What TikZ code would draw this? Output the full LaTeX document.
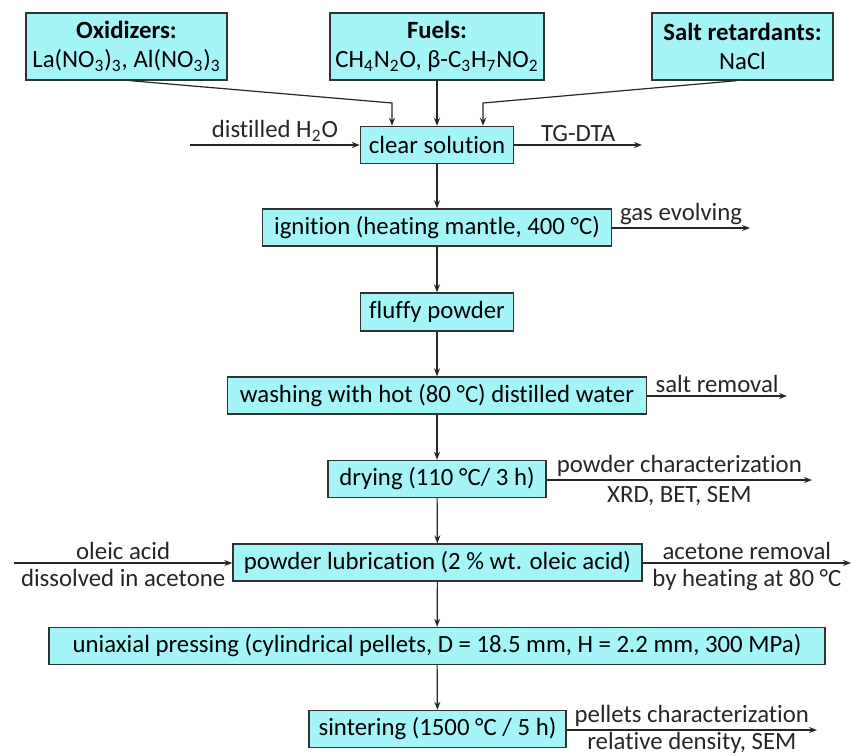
\documentclass[tikz,border=0pt]{standalone}
\usepackage{fontspec}
\setmainfont{Carlito}[Ligatures=NoCommon]
\usepackage{xcolor}
\usepackage{tikz}
\usetikzlibrary{arrows.meta, positioning}
\definecolor{boxcyan}{RGB}{163,245,248}

\begin{document}
\begin{tikzpicture}[x=0.5pt, y=-0.5pt,
    every node/.append style={font={\fontsize{12.4}{14.5}\selectfont}},
    box/.style={draw=black!80, fill=boxcyan, line width=0.7pt, minimum height=18.5pt, inner sep=2pt, align=center},
    arr/.style={-{Stealth[length=4pt, width=3pt]}, line width=0.6pt, black!85},
    lbl/.style={inner sep=1.5pt, align=center},
    lblb/.style={inner sep=3pt, align=center},
]
\useasboundingbox (0,0) rectangle (851,755);

\node[box, minimum width=100.5pt, minimum height=33.5pt] (ox) at (126.5,46.5) {\textbf{Oxidizers:}\\La(NO\textsubscript{3})\textsubscript{3}, Al(NO\textsubscript{3})\textsubscript{3}};
\node[box, minimum width=107pt, minimum height=33.5pt] (fuel) at (437,46.5) {\textbf{Fuels:}\\CH\textsubscript{4}N\textsubscript{2}O, β-C\textsubscript{3}H\textsubscript{7}NO\textsubscript{2}};
\node[box, minimum width=90.5pt, minimum height=33.5pt] (salt) at (742.5,46.5) {\textbf{Salt retardants:}\\NaCl};

\node[box, minimum width=76.5pt] (clear) at (437,145) {clear solution};
\node[box, minimum width=174.5pt] (ign) at (437,227.5) {ignition (heating mantle, 400 °C)};
\node[box, minimum width=76.5pt, minimum height=19pt] (fluffy) at (437,312) {fluffy powder};
\node[box, minimum width=209.5pt] (wash) at (437,395.5) {washing with hot (80 °C) distilled water};
\node[box, minimum width=109pt] (dry) at (437,479) {drying (110 °C/ 3 h)};
\node[box, minimum width=204.5pt] (lub) at (437.5,562.5) {powder lubrication (2 \% wt. oleic acid)};
\node[box, minimum width=388pt] (press) at (437,646) {uniaxial pressing (cylindrical pellets, D = 18.5 mm, H = 2.2 mm, 300 MPa)};
\node[box, minimum width=128.5pt] (sint) at (437.5,729) {sintering (1500 °C / 5 h)};

\coordinate (jox) at (392,103);
\coordinate (jsalt) at (483,103);
\coordinate (inw) at (190,145);
\coordinate (outtg) at (642,145);
\coordinate (outgas) at (750,228);
\coordinate (outsalt) at (787,396);
\coordinate (outdry) at (812,480);
\coordinate (inol) at (14,563);
\coordinate (outac) at (851,563);
\coordinate (outpel) at (817,730);

\draw[arr] ([xshift=2pt]ox.south) -- (jox) -- (jox |- clear.north);
\draw[arr] (fuel.south) -- (fuel.south |- clear.north);
\draw[arr] ([xshift=-3pt]salt.south) -- (jsalt) -- (jsalt |- clear.north);

\draw[arr] (inw) -- node[lbl, above] {distilled H\textsubscript{2}O} (clear);
\draw[arr] (clear) -- node[lbl, above] {TG-DTA} (outtg);

\draw[arr] (clear) -- (ign);
\draw[arr] (ign) -- (fluffy);
\draw[arr] (fluffy) -- (wash);
\draw[arr] (wash) -- (dry);
\draw[arr] (dry) -- (lub);
\draw[arr] (lub) -- (press);
\draw[arr] (press) -- (sint);

\draw[arr] (ign.east |- outgas) -- node[lbl, above] {gas evolving} (outgas);
\draw[arr] (wash.east |- outsalt) -- node[lbl, above] {salt removal} (outsalt);
\draw[arr] (dry.east |- outdry) -- node[lbl, above] {powder characterization} node[lblb, below] {XRD, BET, SEM} (outdry);
\draw[arr] (inol) -- node[lbl, above] {oleic acid} node[lblb, below] {dissolved in acetone} (lub.west |- inol);
\draw[arr] (lub.east |- outac) -- node[lbl, above] {acetone removal} node[lblb, below] {by heating at 80 °C} (outac);
\draw[arr] (sint.east |- outpel) -- node[lbl, above] {pellets characterization} node[lbl, below, inner sep=0.8pt] {relative density, SEM} (outpel);

\end{tikzpicture}
\end{document}
